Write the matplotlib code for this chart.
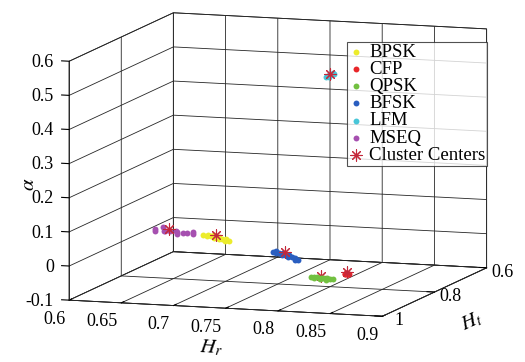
import matplotlib
matplotlib.use("Agg")
import matplotlib.pyplot as plt

plt.rcParams['font.family'] = 'Liberation Serif'
plt.rcParams['mathtext.fontset'] = 'stix'
plt.rcParams['grid.color'] = '#262626'
plt.rcParams['grid.linewidth'] = 0.6

# signal feature samples (Hr, Ht, alpha)
bpsk_hr = [0.660, 0.663, 0.665, 0.667, 0.669, 0.671, 0.672, 0.674, 0.676, 0.678, 0.680, 0.682, 0.684]
bpsk_ht = [0.725, 0.72, 0.73, 0.725, 0.72, 0.73, 0.725, 0.72, 0.73, 0.725, 0.72, 0.73, 0.725]
bpsk_al = [0.004, 0.002, 0.003, 0.000, 0.001, -0.002, 0.000, -0.004, -0.005, -0.007, -0.009, -0.010, -0.012]

cfp_hr = [0.821, 0.822, 0.823, 0.824, 0.823, 0.822, 0.824]
cfp_ht = [0.826, 0.83, 0.82, 0.826, 0.83, 0.822, 0.828]
cfp_al = [-0.050, -0.048, -0.052, -0.050, -0.046, -0.053, -0.049]

qpsk_hr = [0.798, 0.800, 0.802, 0.804, 0.806, 0.808, 0.810, 0.812, 0.814, 0.816, 0.818]
qpsk_ht = [0.866, 0.86, 0.87, 0.866, 0.86, 0.87, 0.866, 0.86, 0.87, 0.866, 0.86]
qpsk_al = [-0.049, -0.051, -0.050, -0.048, -0.052, -0.050, -0.049, -0.051, -0.052, -0.053, -0.054]

bfsk_hr = [0.754, 0.756, 0.758, 0.760, 0.762, 0.764, 0.766, 0.768, 0.770, 0.772, 0.774, 0.776, 0.778]
bfsk_ht = [0.835, 0.83, 0.84, 0.835, 0.83, 0.84, 0.835, 0.83, 0.84, 0.835, 0.83, 0.84, 0.835]
bfsk_al = [0.008, 0.007, 0.005, 0.004, 0.002, 0.001, 0.000, -0.002, -0.004, -0.006, -0.008, -0.010, -0.012]

lfm_hr = [0.799, 0.800, 0.801, 0.800, 0.799, 0.801]
lfm_ht = [0.80, 0.79, 0.81, 0.80, 0.81, 0.79]
lfm_al = [0.520, 0.522, 0.518, 0.521, 0.519, 0.520]

mseq_hr = [0.607, 0.610, 0.613, 0.616, 0.619, 0.622, 0.625, 0.628, 0.631, 0.634, 0.638, 0.641, 0.644]
mseq_ht = [0.70, 0.71, 0.69, 0.70, 0.71, 0.70, 0.69, 0.70, 0.71, 0.70, 0.70, 0.69, 0.70]
mseq_al = [0.003, 0.000, 0.005, -0.002, 0.002, 0.000, -0.003, -0.001, -0.003, -0.004, -0.005, -0.003, -0.006]

# cluster centers
cen_hr = [0.672, 0.823, 0.808, 0.766, 0.800, 0.621]
cen_ht = [0.725, 0.826, 0.866, 0.835, 0.80, 0.70]
cen_al = [0.005, -0.045, -0.045, 0.008, 0.522, 0.006]

labels = ['BPSK', 'CFP', 'QPSK', 'BFSK', 'LFM', 'MSEQ']
colors = ['#ECEC2C', '#E8262A', '#72C040', '#2A5EC0', '#48C6D8', '#A650B0']

xticks = [0.6, 0.65, 0.7, 0.75, 0.8, 0.85, 0.9]
yticks = [0.6, 0.8, 1.0]
zticks = [-0.1, 0, 0.1, 0.2, 0.3, 0.4, 0.5, 0.6]

fig = plt.figure(figsize=(5.25, 3.62), dpi=100)
ax = fig.add_axes([0.02, 0.032, 1.0, 1.0], projection='3d', proj_type='ortho')
ax.view_init(elev=8.9, azim=-71.6)
ax.set_box_aspect((4, 4, 2.93), zoom=1.41)

groups = [(bpsk_hr, bpsk_ht, bpsk_al), (cfp_hr, cfp_ht, cfp_al),
          (qpsk_hr, qpsk_ht, qpsk_al), (bfsk_hr, bfsk_ht, bfsk_al),
          (lfm_hr, lfm_ht, lfm_al), (mseq_hr, mseq_ht, mseq_al)]
for (hr, ht, al), lab, col in zip(groups, labels, colors):
    ax.scatter(hr, ht, al, s=18, color=col, marker='o', linewidths=0,
               depthshade=False, label=lab)

ax.scatter(cen_hr, cen_ht, cen_al, s=65, color='#C4283A', marker=(8, 2, 0),
           linewidths=0.8, depthshade=False, label='Cluster Centers')

ax.set_xlim(0.6, 0.9)
ax.set_ylim(1.0, 0.6)
ax.set_zlim(-0.1, 0.6)
ax.set_xticks(xticks)
ax.set_xticklabels(['0.6', '0.65', '0.7', '0.75', '0.8', '0.85', '0.9'], ha='right')
ax.set_yticks(yticks)
ax.set_yticklabels(['0.6', '0.8', '1'], va='bottom')
ax.set_zticks(zticks)
ax.set_zticklabels(['-0.1', '0', '0.1', '0.2', '0.3', '0.4', '0.5', '0.6'],
                   ha='right', va='center')
ax.tick_params(labelsize=13)
ax.tick_params(axis='x', pad=-3)
ax.tick_params(axis='y', pad=-1)
ax.tick_params(axis='z', pad=-3)
ax.zaxis.set_ticks_position('upper')
ax.zaxis.set_label_position('upper')

for axis in (ax.xaxis, ax.yaxis, ax.zaxis):
    axis.set_pane_color((1, 1, 1, 1))
    axis.pane.set_edgecolor('#262626')
    axis.pane.set_linewidth(0.6)
    axis.line.set_color('#262626')
    axis.line.set_linewidth(0.6)
    axis._axinfo['tick']['inward_factor'] = 0.0
    axis._axinfo['tick']['outward_factor'] = 0.3

ax.set_xlabel('$H_r$', fontsize=15, labelpad=-2)
ax.set_ylabel('$H_t$', fontsize=15, labelpad=-5)
ax.set_zlabel(r'$\alpha$', fontsize=15, labelpad=-8)

leg = ax.legend(loc='upper right', bbox_to_anchor=(0.928, 0.884),
                bbox_transform=fig.transFigure, fontsize=13.5, frameon=True,
                fancybox=False, borderpad=0.1, labelspacing=0.0,
                handlelength=0.8, handletextpad=0.3, borderaxespad=0)
leg.get_frame().set_edgecolor('#262626')
leg.get_frame().set_linewidth(0.8)

fig.savefig('out.png', dpi=100)
